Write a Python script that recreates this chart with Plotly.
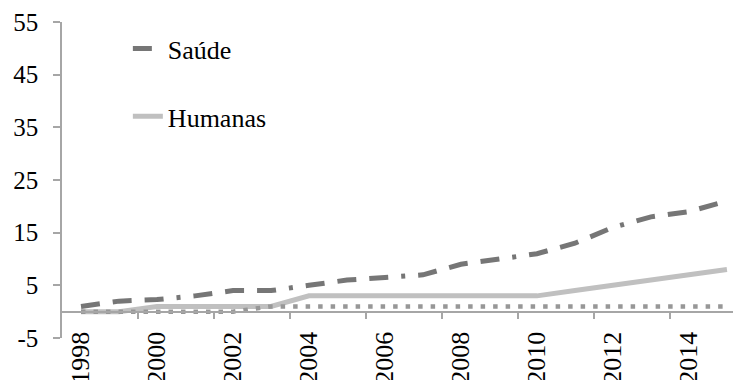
import plotly.graph_objects as go

years = list(range(1998, 2016))
saude = [1, 2, 2.3, 3, 4, 4, 5, 6, 6.5, 7, 9, 10, 11, 13, 16, 18, 19, 21]
humanas = [0, 0, 1, 1, 1, 1, 3, 3, 3, 3, 3, 3, 3, 4, 5, 6, 7, 8]
outras = [0, 0, 0, 0, 0, 1, 1, 1, 1, 1, 1, 1, 1, 1, 1, 1, 1, 1]
tick_years = [1998, 2000, 2002, 2004, 2006, 2008, 2010, 2012, 2014]
tick_labels = [str(y) for y in tick_years]
y_ticks = [-5, 5, 15, 25, 35, 45, 55]
y_tick_labels = [str(v) for v in y_ticks]
boundary_ticks = [1999.5, 2001.5, 2003.5, 2005.5, 2007.5, 2009.5, 2011.5, 2013.5]

FONT = "Liberation Serif"
AX = "#a6a6a6"

fig = go.Figure()
fig.add_trace(go.Scatter(
    x=years, y=humanas, mode="lines", name="Humanas",
    line=dict(color="#c0c0c0", width=5), legendgroup="h", legendrank=2))
fig.add_trace(go.Scatter(
    x=years, y=outras, mode="lines", name="Outras", showlegend=False,
    line=dict(color="#979797", width=4.5, dash="4.5px,8px")))
fig.add_trace(go.Scatter(
    x=years, y=saude, mode="lines", name="Saúde",
    line=dict(color="#767676", width=5, dash="19px,13px,19px,13px,19px,13px,4px,13px"),
    legendgroup="s", legendrank=1))

fig.update_layout(
    width=741, height=380,
    margin=dict(l=54, r=8, t=14, b=50, autoexpand=False),
    paper_bgcolor="white", plot_bgcolor="white",
    font=dict(family=FONT, size=26, color="black"),
    showlegend=True,
    legend=dict(x=0.097, y=0.99, xanchor="left", yanchor="top",
                bgcolor="rgba(0,0,0,0)", borderwidth=0,
                traceorder="grouped", tracegroupgap=31,
                font=dict(family=FONT, size=26, color="black")),
    xaxis=dict(
        range=[1997.5, 2015.37], anchor="free", position=5/60,
        automargin=False,
        tickmode="array", tickvals=tick_years, ticktext=tick_labels,
        tickangle=-90, ticks="", ticklabelstandoff=9,
        showline=True, linecolor=AX, linewidth=1.5,
        showgrid=False, zeroline=False,
        tickfont=dict(family=FONT, size=26, color="black"),
        minor=dict(tickmode="array", tickvals=boundary_ticks, ticks="outside",
                   ticklen=7, tickcolor=AX, tickwidth=1.5, showgrid=False),
    ),
    yaxis=dict(
        range=[-5, 55], tickmode="array", tickvals=y_ticks, ticktext=y_tick_labels,
        automargin=False,
        ticks="outside", ticklen=7, tickcolor=AX, tickwidth=1.5,
        ticklabelstandoff=10,
        showline=True, linecolor=AX, linewidth=1.5,
        showgrid=False, zeroline=False,
        tickfont=dict(family=FONT, size=25, color="black"),
    ),
)

fig.write_html("out.html")
